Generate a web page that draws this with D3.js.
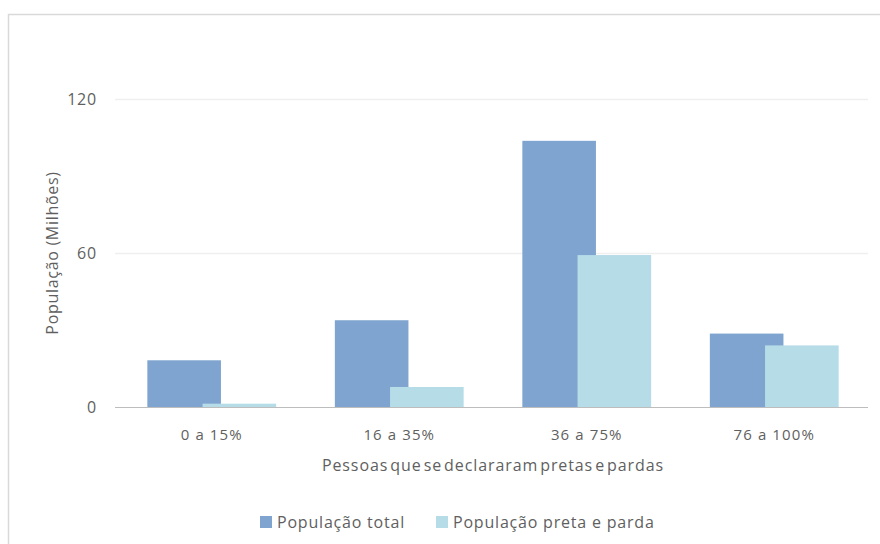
<!DOCTYPE html>
<html>
<head>
<meta charset="utf-8">
<script src="https://cdn.jsdelivr.net/npm/d3@7"></script>
<style>
  html, body { margin: 0; padding: 0; background: #fff; }
  svg { display: block; font-family: "Open Sans", "Noto Sans", sans-serif; }
</style>
</head>
<body>
<svg id="chart" width="880" height="544"></svg>
<script>
// Faixas de proporção de pessoas pretas e pardas
const categories = ["0 a 15%", "16 a 35%", "36 a 75%", "76 a 100%"];
const seriesNames = ["População total", "População preta e parda"];
const totalPop = [18.2, 33.8, 103.7, 28.6];
const pretaParda = [1.3, 7.8, 59.2, 24.0];
const yTicks = [0, 60, 120];
const colors = ["#7fa4cf", "#b5dce7"];

const svg = d3.select("#chart");
const W = 880, H = 544;
const margin = { left: 118, right: 12, top: 99, bottom: 137 };
const plotR = W - margin.right, plotB = H - margin.bottom;
const textColor = "#5f5f5f";

// outer frame
svg.append("rect")
  .attr("x", 8.5).attr("y", 14.5)
  .attr("width", W).attr("height", H)
  .attr("fill", "#fff").attr("stroke", "#d9d9d9").attr("stroke-width", 1.5);

const x0 = d3.scaleBand().domain(categories).range([margin.left, plotR]).padding(0);
const y = d3.scaleLinear().domain([0, 120]).range([plotB, margin.top]);

// gridlines
svg.append("g").selectAll("line")
  .data(yTicks.filter(t => t > 0))
  .join("line")
  .attr("x1", margin.left - 3).attr("x2", plotR)
  .attr("y1", d => Math.round(y(d)) + 0.5).attr("y2", d => Math.round(y(d)) + 0.5)
  .attr("stroke", "#efefef").attr("stroke-width", 1.5);

// y tick labels
svg.append("g").selectAll("text")
  .data(yTicks)
  .join("text")
  .attr("x", 97).attr("y", d => y(d))
  .attr("dy", "0.35em")
  .attr("text-anchor", "end")
  .attr("fill", textColor)
  .attr("font-size", 16)
  .attr("letter-spacing", 0.8)
  .text(d => d);

// bars: two series per group, with 25% overlap
const groupFrac = 0.687, overlap = 0.25;
const groupW = x0.bandwidth() * groupFrac;
const barW = groupW / (2 - overlap);
const series = [totalPop, pretaParda];
series.forEach((vals, si) => {
  svg.append("g").selectAll("rect")
    .data(categories.map((c, i) => ({ c, v: vals[i] })))
    .join("rect")
    .attr("x", d => x0(d.c) + (x0.bandwidth() - groupW) / 2 + si * barW * (1 - overlap))
    .attr("width", barW)
    .attr("y", d => y(d.v))
    .attr("height", d => y(0) - y(d.v))
    .attr("fill", colors[si]);
});

// baseline
svg.append("line")
  .attr("x1", margin.left - 3).attr("x2", plotR)
  .attr("y1", plotB + 0.5).attr("y2", plotB + 0.5)
  .attr("stroke", "#bdbdbd").attr("stroke-width", 1.2);

// x tick labels
svg.append("g").selectAll("text")
  .data(categories)
  .join("text")
  .attr("x", d => x0(d) + x0.bandwidth() / 2)
  .attr("y", 435).attr("dy", "0.35em")
  .attr("text-anchor", "middle")
  .attr("fill", textColor)
  .attr("font-size", 15)
  .attr("letter-spacing", 1.1)
  .text(d => d);

// axis titles
svg.append("text")
  .attr("x", (margin.left + plotR) / 2).attr("y", 465).attr("dy", "0.35em")
  .attr("text-anchor", "middle")
  .attr("fill", textColor)
  .attr("font-size", 16)
  .attr("letter-spacing", 0.9)
  .attr("word-spacing", -3)
  .text("Pessoas que se declararam pretas e pardas");

svg.append("text")
  .attr("transform", `translate(52, ${(margin.top + plotB) / 2}) rotate(-90)`)
  .attr("dy", "0.35em")
  .attr("text-anchor", "middle")
  .attr("fill", textColor)
  .attr("font-size", 16)
  .attr("letter-spacing", 0.7)
  .text("População (Milhões)");

// legend
const legendX = [260, 436];
const lg = svg.append("g").selectAll("g")
  .data(seriesNames)
  .join("g")
  .attr("transform", (d, i) => `translate(${legendX[i]}, 522)`);
lg.append("rect")
  .attr("x", 0).attr("y", -6).attr("width", 12).attr("height", 12)
  .attr("fill", (d, i) => colors[i]);
lg.append("text")
  .attr("x", 17).attr("dy", "0.35em")
  .attr("fill", textColor)
  .attr("font-size", 16)
  .attr("letter-spacing", 0.8)
  .text(d => d);
</script>
</body>
</html>
